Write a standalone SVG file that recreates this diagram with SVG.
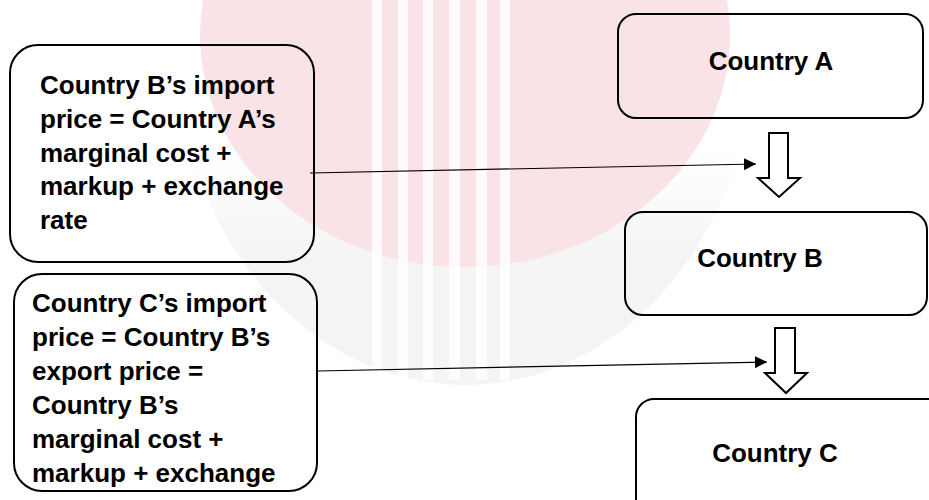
<svg xmlns="http://www.w3.org/2000/svg" width="929" height="500" viewBox="0 0 929 500">
  <style>
    .box { fill: none; stroke: #000; stroke-width: 2; }
    .t { font-family: "Liberation Sans", Arial, sans-serif; font-weight: bold; font-size: 26px; fill: #000; }
    .c { text-anchor: middle; }
    .conn { stroke: #000; stroke-width: 1.2; fill: none; }
    .block { fill: #fff; stroke: #000; stroke-width: 2; stroke-linejoin: miter; }
  </style>
  <defs>
    <marker id="ah" viewBox="0 0 10 10" refX="10" refY="5" markerWidth="12" markerHeight="12" markerUnits="userSpaceOnUse" orient="auto">
      <path d="M0,0 L10,5 L0,10 Z" fill="#000"/>
    </marker>
    <clipPath id="clip2">
      <rect x="14" y="274" width="303" height="214"/>
    </clipPath>
    <linearGradient id="greyfade" gradientUnits="userSpaceOnUse" x1="0" y1="150" x2="0" y2="260">
      <stop offset="0" stop-color="#f4f4f4" stop-opacity="0"/>
      <stop offset="1" stop-color="#f4f4f4" stop-opacity="1"/>
    </linearGradient>
  </defs>
  <rect width="929" height="500" fill="#fff"/>
  <g id="watermark">
    <ellipse cx="465" cy="40" rx="290" ry="345" fill="url(#greyfade)"/>
    <ellipse cx="465" cy="35" rx="265" ry="232" fill="#f9e3e7"/>
    <g fill="#fff" opacity="0.85">
      <rect x="372" y="0" width="10" height="380"/>
      <rect x="398" y="0" width="10" height="380"/>
      <rect x="423" y="0" width="10" height="380"/>
      <rect x="449" y="0" width="11" height="380"/>
      <rect x="476" y="0" width="11" height="380"/>
      <rect x="500" y="0" width="10" height="380"/>
    </g>
  </g>
  <g id="nodeBimport">
    <rect class="box" x="10" y="45" width="304" height="217" rx="28"/>
    <text class="t" x="40" y="94">Country B’s import</text>
    <text class="t" x="40" y="128">price = Country A’s</text>
    <text class="t" x="40" y="161.5">marginal cost +</text>
    <text class="t" x="40" y="195">markup + exchange</text>
    <text class="t" x="40" y="229">rate</text>
  </g>
  <g id="nodeCimport">
    <rect class="box" x="14" y="274" width="303" height="217" rx="28"/>
    <g clip-path="url(#clip2)">
      <text class="t" x="32" y="312">Country C’s import</text>
      <text class="t" x="32" y="346">price = Country B’s</text>
      <text class="t" x="32" y="380">export price =</text>
      <text class="t" x="32" y="414">Country B’s</text>
      <text class="t" x="32" y="448">marginal cost +</text>
      <text class="t" x="32" y="482">markup + exchange</text>
    </g>
  </g>
  <g id="nodeA">
    <rect class="box" x="618" y="14" width="305" height="104" rx="18"/>
    <text class="t c" x="771" y="70">Country A</text>
  </g>
  <g id="nodeB">
    <rect class="box" x="625" y="212" width="302" height="103" rx="18"/>
    <text class="t c" x="760" y="267">Country B</text>
  </g>
  <g id="nodeC">
    <rect class="box" x="636" y="399" width="310" height="130" rx="18"/>
    <text class="t c" x="775" y="462">Country C</text>
  </g>
  <g id="connectors">
    <path class="block" d="M769,133 L788,133 L788,178 L800,178 L779,197 L758,178 L769,178 Z"/>
    <path class="block" d="M775,328 L795,328 L795,373 L807,373 L786,393 L765,373 L775,373 Z"/>
    <line class="conn" x1="310" y1="173" x2="756" y2="164" marker-end="url(#ah)"/>
    <line class="conn" x1="318" y1="371" x2="767" y2="362" marker-end="url(#ah)"/>
  </g>
</svg>
